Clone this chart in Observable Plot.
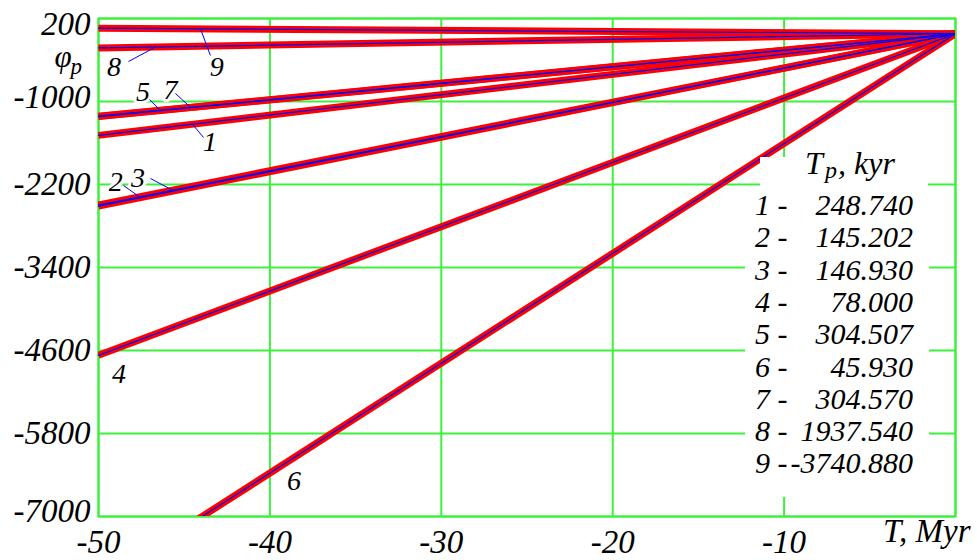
<!DOCTYPE html>
<html><head><meta charset="utf-8">
<script src="https://cdn.jsdelivr.net/npm/d3@7"></script>
<script src="https://cdn.jsdelivr.net/npm/@observablehq/plot@0.6"></script>
<style>
body{margin:0;background:#fff;}
#wrap{position:relative;width:977px;height:560px;font-family:"Liberation Serif","Times New Roman",serif;font-style:italic;color:#000;}
.box{position:absolute;background:#fff;}
.t{position:absolute;white-space:pre;}
</style></head><body><div id="wrap"></div>
<script>
// ---- data ----
const seriesIds = ["1","2","3","4","5","6","7","8","9"];
const periodLabels = ["248.740","145.202","146.930","78.000","304.507","45.930","304.570","1937.540","-3740.880"];
const timeEnds = [-50, 0];
const phiAtMinus50 = [-1490, -2512, -2496, -4670, -1218, -7960, -1212, -225, 60];
const phiAtZero = [-20, -20, -20, -20, -20, -20, -20, -20, -20];
const xTicks = [-50, -40, -30, -20, -10];
const yTicks = [200, -1000, -2200, -3400, -4600, -5800, -7000];
// curve number annotations (data coordinates)
const annId  = ["8", "9", "5", "7", "1", "2", "3", "4", "6"];
const annT   = [-49.1, -43.1, -47.4, -45.8, -43.5, -49.0, -47.7, -48.8, -38.6];
const annPhi = [-508, -508, -870, -841, -1593, -2171, -2113, -4933, -6480];
// leader lines: from near label to a point on the curve
const leadId      = ["8", "9", "5", "7", "1", "2", "3"];
const leadFromT   = [-48.25, -43.47, -47.02, -45.51, -43.87, -48.54, -46.97];
const leadFromPhi = [-422, -335, -971, -884, -1520, -2214, -2113];
const leadToT     = [-46.67, -44.05, -46.38, -44.63, -44.52, -47.55, -45.68];

// ---- derived tables ----
const phiOn = (id, T) => {
  const i = seriesIds.indexOf(id);
  return phiAtZero[i] + (phiAtMinus50[i] - phiAtZero[i]) * (T / timeEnds[0]);
};
const lineData = seriesIds.flatMap((id, i) => timeEnds.map(T => ({id, T, phi: T === 0 ? phiAtZero[i] : phiAtMinus50[i]})));
const annData = annId.map((id, i) => ({id, T: annT[i], phi: annPhi[i]}));
const leadData = leadId.map((id, i) => ({id, x1: leadFromT[i], y1: leadFromPhi[i], x2: leadToT[i], y2: phiOn(id, leadToT[i])}));

const green = "#3cf03c";
const fmt = d => String(d);
const axisStyle = {tickSize: 0, fontSize: 33, label: null, tickFormat: fmt};

const plot = Plot.plot({
  width: 977, height: 560,
  marginLeft: 98, marginRight: 22, marginTop: 18, marginBottom: 44,
  x: {domain: [-50, 0]},
  y: {domain: [-7000, 200]},
  style: {fontFamily: "'Liberation Serif','Times New Roman',serif", fontStyle: "italic", background: "white", overflow: "visible", color: "black"},
  marks: [
    Plot.gridX([...xTicks, 0], {stroke: green, strokeOpacity: 1, strokeWidth: 2}),
    Plot.gridY(yTicks, {stroke: green, strokeOpacity: 1, strokeWidth: 2}),
    Plot.frame({stroke: green, strokeWidth: 2}),
    Plot.axisX(xTicks, {...axisStyle, tickPadding: 13}),
    Plot.axisY([200], {...axisStyle, tickPadding: 8, dy: 6}),
    Plot.axisY([-1000], {...axisStyle, tickPadding: 8, dy: -4}),
    Plot.axisY(yTicks.slice(2, 6), {...axisStyle, tickPadding: 8}),
    Plot.axisY([-7000], {...axisStyle, tickPadding: 8, dy: -5}),
    Plot.text(annData, {x: "T", y: "phi", text: "id", fontSize: 28, fill: "black", stroke: "white", strokeWidth: 6, paintOrder: "stroke"}),
    Plot.line(lineData, {x: "T", y: "phi", z: "id", stroke: "#ff0000", strokeWidth: 7, strokeLinecap: "butt", clip: true}),
    Plot.line(lineData, {x: "T", y: "phi", z: "id", stroke: "#0000ff", strokeWidth: 1.2, clip: true}),
    Plot.link(leadData, {x1: "x1", y1: "y1", x2: "x2", y2: "y2", stroke: "#0000ff", strokeWidth: 1}),
    Plot.text(["φ"], {frameAnchor: "top-left", dx: -44, dy: 26, fontSize: 31}),
    Plot.text(["p"], {frameAnchor: "top-left", dx: -28, dy: 39, fontSize: 23}),
    Plot.text(["T, Myr"], {frameAnchor: "bottom-right", textAnchor: "end", dx: 15, dy: 25, fontSize: 33})
  ]
});

const wrap = document.getElementById("wrap");
wrap.appendChild(plot);

// legend overlay
function el(cls, css, html) {
  const d = document.createElement("div");
  d.className = cls; d.style.cssText = css; if (html != null) d.innerHTML = html;
  wrap.appendChild(d); return d;
}
el("box", "left:760px;top:157px;width:168px;height:29px;");
el("box", "left:745px;top:186px;width:184px;height:311px;");
el("t", "left:805px;top:147px;font-size:32px;line-height:32px;", "T");
el("t", "left:825px;top:158px;font-size:24px;line-height:24px;", "p");
el("t", "left:838px;top:147px;font-size:32px;line-height:32px;", ", kyr");
seriesIds.forEach((id, i) => {
  const top = 189 + i * 32.3;
  el("t", `left:755px;top:${top}px;font-size:30px;line-height:32px;`, id + " -");
  el("t", `left:755px;top:${top}px;width:158px;text-align:right;font-size:30px;line-height:32px;`, periodLabels[i]);
});
</script>
</body></html>
